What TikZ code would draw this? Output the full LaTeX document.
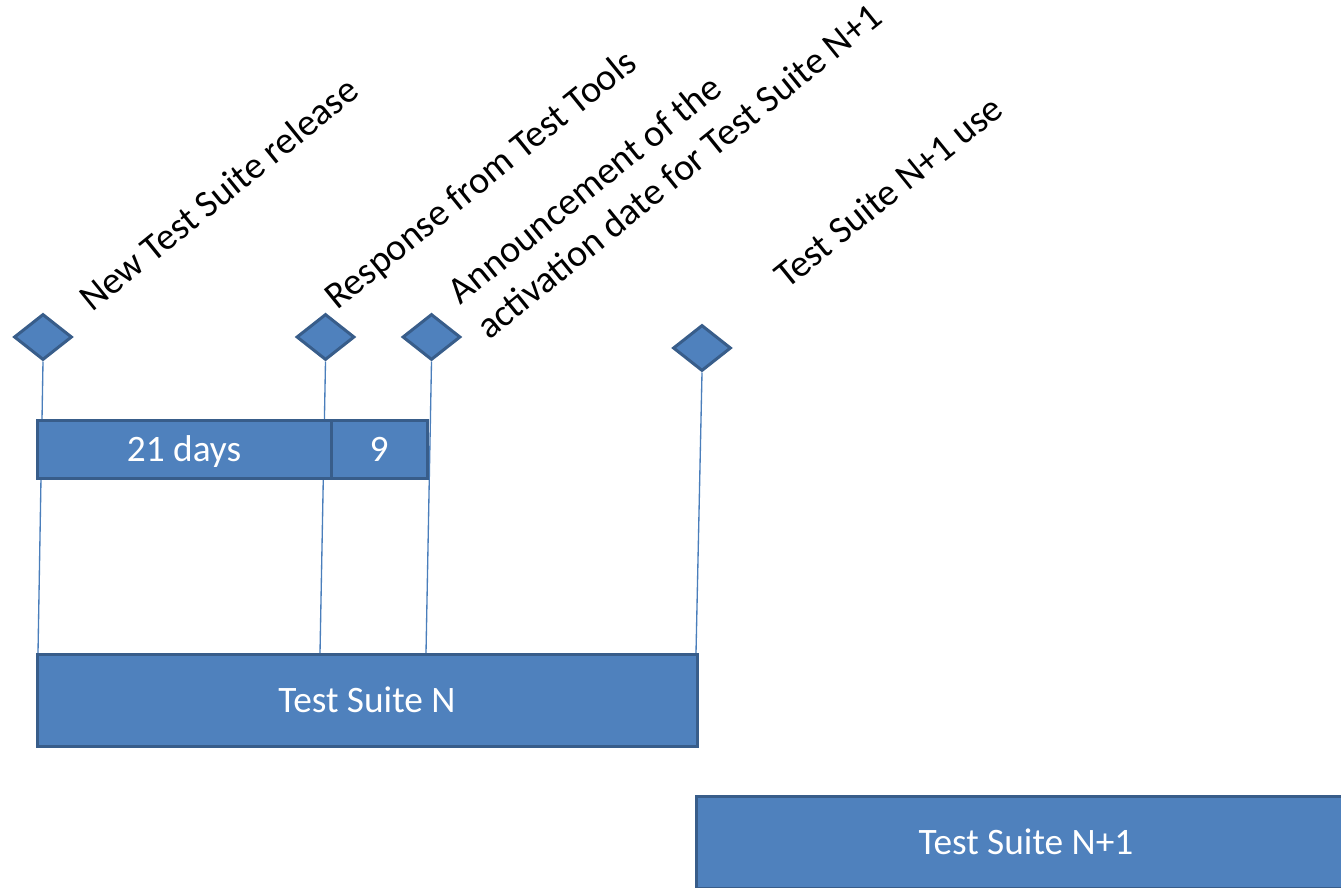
\documentclass[tikz,border=0pt]{standalone}
\usepackage{fontspec}
\setmainfont{Carlito}
\usetikzlibrary{shapes.geometric}
\definecolor{fillblue}{HTML}{4F81BD}
\definecolor{edgeblue}{HTML}{385D8A}
\definecolor{lineblue}{HTML}{4A7EBB}
\begin{document}
\begin{tikzpicture}[x=0.75pt,y=-0.75pt,
  ms/.style={diamond, draw=edgeblue, fill=fillblue, line width=2.25pt, minimum width=43.5pt, minimum height=34.5pt, inner sep=0pt},
  bar/.style={rectangle, draw=edgeblue, fill=fillblue, line width=2.25pt, text=white, font=\fontsize{28}{34}\selectfont, inner sep=0pt, text height=18pt, text depth=0pt},
  conn/.style={draw=lineblue, line width=1pt},
  lbl/.style={rotate=39, anchor=base west, inner sep=0pt, font=\fontsize{28.5}{34}\selectfont, align=left}]
\path[use as bounding box] (0,0) rectangle (1341,888);
\clip (0,0) rectangle (1341,888);

% milestones
\node[ms] (d1) at (43,337) {};
\node[ms] (d2) at (325.5,337) {};
\node[ms] (d3) at (431.5,337) {};
\node[ms] (d4) at (702,348) {};

% labels
\node[lbl] (l1) at (92,313) {New Test Suite release};
\node[lbl] (l2) at (337,311) {Response from Test Tools};
\node[lbl] (l3) at (489,341) {Announcement of the\\activation date for Test Suite N+1};
\node[lbl] (l4) at (787,290) {Test Suite N+1 use};

% connector ends on the Test Suite N bar
\coordinate (e1) at (38,653);
\coordinate (e2) at (320,653);
\coordinate (e3) at (426,653);
\coordinate (e4) at (696,653);
\draw[conn] (d1.south) -- (e1);
\draw[conn] (d2.south) -- (e2);
\draw[conn] (d3.south) -- (e3);
\draw[conn] (d4.south) -- (e4);

% bars
\node[bar, minimum width=220.5pt, minimum height=43.5pt] (b21) at (184,449) {21 days};
\node[bar, minimum width=72pt, minimum height=43.5pt] (b9) at (379,449) {9};
\node[bar, minimum width=495pt, minimum height=69pt] (tsn) at (367,700) {Test Suite N};
\node[bar, minimum width=495pt, minimum height=69pt] (tsn1) at (1026,842) {Test Suite N+1};
\end{tikzpicture}
\end{document}
